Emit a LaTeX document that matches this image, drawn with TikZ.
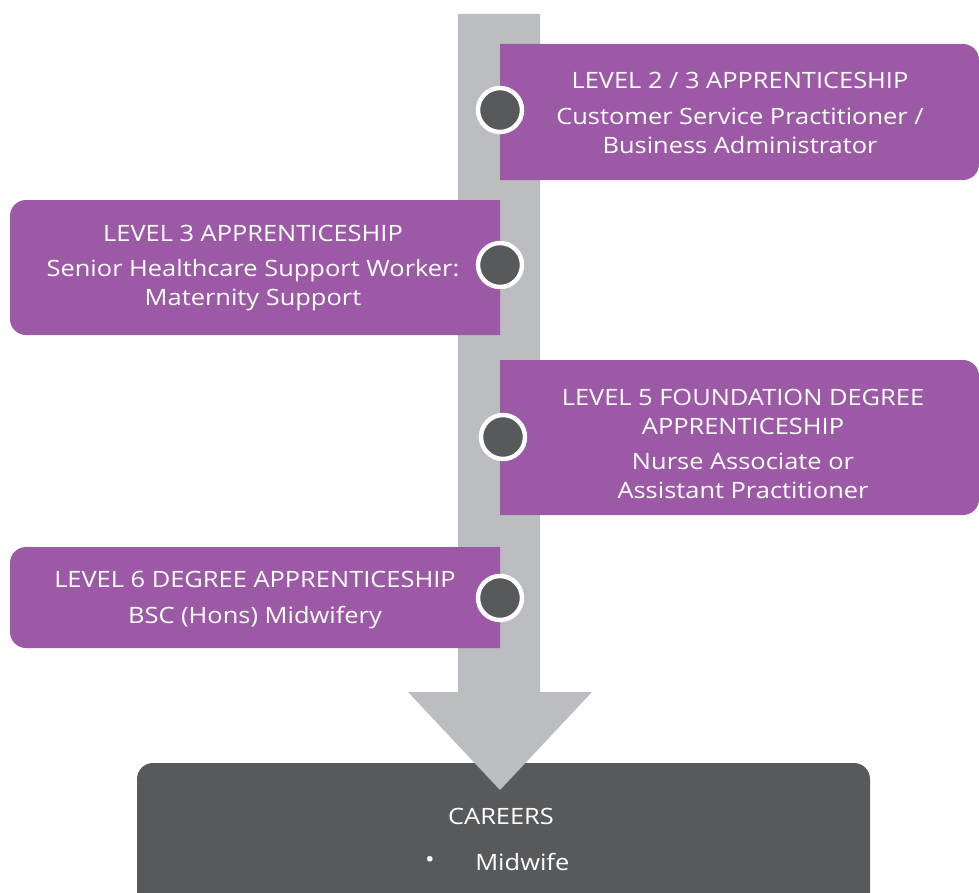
\documentclass[tikz,border=0pt]{standalone}
\usepackage{fontspec}
\setmainfont[FakeStretch=1.13]{Open Sans}
\usepackage{xcolor}
\usepackage{tikz}
\definecolor{mwpurple}{RGB}{156, 90, 166}
\definecolor{mwbar}{RGB}{188, 189, 192}
\definecolor{mwdark}{RGB}{88, 89, 91}

\tikzset{
  steptext/.style={text=white, align=center, font=\fontsize{16}{20.5}\selectfont, inner sep=0pt},
  stopdot/.style={circle, fill=mwdark, draw=white, line width=1.1mm, minimum size=11mm, inner sep=0pt}
}

\begin{document}
\begin{tikzpicture}[x=0.25mm, y=-0.25mm]
\useasboundingbox (0,0) rectangle (979,892);

% careers box at the bottom
\fill[mwdark, rounded corners=4mm] (137,763) rectangle (870,920);

% grey arrow down the middle
\fill[mwbar] (458,14) -- (540,14) -- (540,692) -- (592,692) -- (500,790)
  -- (408,692) -- (458,692) -- cycle;

% purple steps, square on the arrow side
\fill[mwpurple] (500,44) [rounded corners=4mm]-- (979,44) -- (979,180) [sharp corners]-- (500,180) -- cycle;
\fill[mwpurple] (500,200) [rounded corners=4mm]-- (10,200) -- (10,335) [sharp corners]-- (500,335) -- cycle;
\fill[mwpurple] (500,360) [rounded corners=4mm]-- (979,360) -- (979,515) [sharp corners]-- (500,515) -- cycle;
\fill[mwpurple] (500,547) [rounded corners=4mm]-- (10,547) -- (10,648) [sharp corners]-- (500,648) -- cycle;

% dots on the arrow
\node[stopdot] (dotA) at (500,110) {};
\node[stopdot] (dotB) at (500,265) {};
\node[stopdot] (dotC) at (503,437) {};
\node[stopdot] (dotD) at (500,598) {};

% texts
\node[steptext] (lvlA) at (740,113) {LEVEL 2 / 3 APPRENTICESHIP\\[5pt]
  Customer Service Practitioner /\\Business Administrator};
\node[steptext] (lvlB) at (253,268) {LEVEL 3 APPRENTICESHIP\\[5pt]
  Senior Healthcare Support Worker:\\Maternity Support};
\node[steptext] (lvlC) at (743,444) {LEVEL 5 FOUNDATION DEGREE\\APPRENTICESHIP\\[5pt]
  Nurse Associate or\\Assistant Practitioner};
\node[steptext] (lvlD) at (255,600) {LEVEL 6 DEGREE APPRENTICESHIP\\[5pt]
  BSC (Hons) Midwifery};

\node[steptext] (careers) at (501,816) {CAREERS};
\node[steptext] (bullet) at (430,862) {\textbullet};
\node[steptext, anchor=west] (midwife) at (475,862) {Midwife};
\end{tikzpicture}
\end{document}
